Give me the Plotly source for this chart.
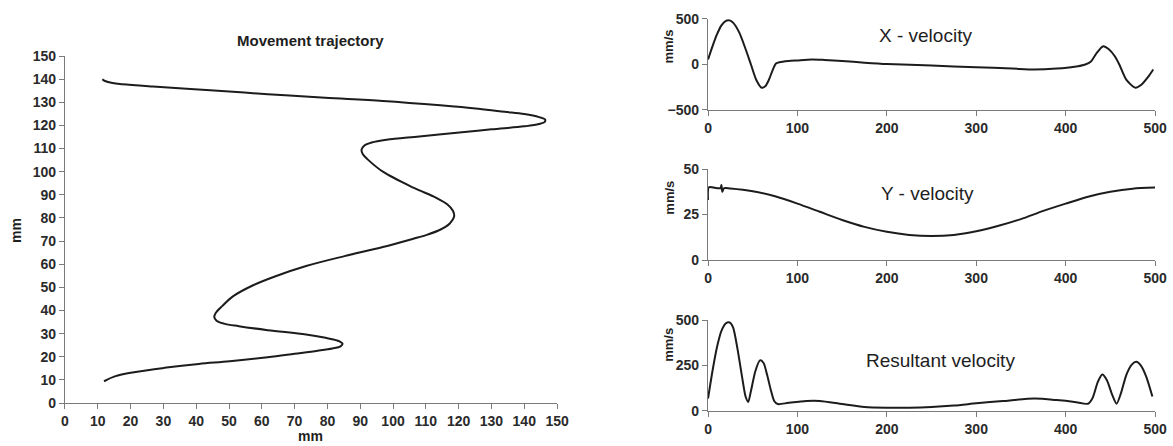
import plotly.graph_objects as go

# ---- Movement trajectory (mm) ----
traj_x = [11.4, 12.2, 14.5, 17.5, 26.8, 44.3, 61.8, 79.3, 96.9, 114.4, 126.0, 134.0, 140.0,
          144.5, 146.3, 146.3, 144.5, 140.0, 130.0, 120.2, 108.0, 98.0, 93.5, 91.2, 90.4,
          90.8, 92.5, 96.9, 106.2, 113.2, 116.6, 118.3, 118.6, 117.3, 114.5, 110.5, 106.2,
          96.9, 85.2, 73.5, 64.2, 57.2, 51.3, 48.0, 46.0, 45.5, 46.2, 48.5, 53.0, 61.8,
          73.5, 79.0, 83.0, 84.6, 84.0, 81.5, 77.0, 70.0, 61.8, 50.2, 40.8, 30.3, 21.0,
          15.2, 11.9]
traj_y = [140.0, 139.2, 138.3, 137.8, 136.8, 135.2, 133.5, 132.0, 130.6, 128.7, 127.2, 125.9, 124.9,
          123.6, 122.6, 121.6, 120.6, 119.6, 118.3, 116.9, 115.2, 113.8, 112.6, 111.2, 109.5,
          107.5, 105.0, 100.0, 93.1, 88.7, 85.8, 83.0, 80.5, 77.6, 75.0, 72.8, 71.0,
          67.4, 63.5, 59.2, 54.8, 50.8, 46.2, 42.0, 39.0, 37.2, 35.6, 34.3, 33.2, 31.5,
          29.6, 28.3, 27.0, 25.6, 24.5, 23.6, 22.6, 21.3, 19.8, 18.0, 16.9, 15.2, 13.3,
          11.5, 9.4]

# ---- X - velocity (mm/s) ----
xv_t = [0, 5, 10, 15, 20, 24, 28, 35, 42, 48, 54, 60, 64, 68, 72, 76, 80, 90, 100, 116, 130,
        150, 175, 200, 250, 300, 340, 365, 390, 410, 422, 428, 435, 442, 448, 455, 460, 468,
        478, 485, 492, 498]
xv_v = [55, 200, 330, 430, 480, 485, 460, 350, 170, 0, -170, -255, -240, -170, -70, 10, 25, 38,
        45, 55, 50, 38, 20, 5, -12, -30, -45, -55, -45, -25, 0, 30, 130, 200, 170, 90, 0, -170,
        -255, -220, -140, -55]

# ---- Y - velocity (mm/s) ----
yv_t = [0, 1, 10, 14, 15, 16, 18, 25, 50, 75, 100, 125, 150, 175, 200, 225, 250, 275, 300,
        325, 350, 375, 400, 425, 450, 475, 500]
yv_v = [33, 40, 39.5, 39.5, 41.2, 37.5, 39.5, 39.3, 37.8, 35, 31, 26.5, 22, 18.2, 15.5, 13.8,
        13.2, 13.8, 15.8, 18.8, 22.5, 27, 31, 34.8, 37.5, 39.2, 39.8]

# ---- Resultant velocity (mm/s) ----
rv_t = [0, 5, 10, 15, 20, 24, 28, 33, 38, 42, 45, 48, 53, 58, 62, 66, 70, 74, 78, 90, 110,
        125, 150, 175, 200, 225, 250, 275, 300, 330, 365, 390, 410, 425, 430, 436, 441, 446,
        452, 457, 462, 468, 474, 479, 484, 490, 497]
rv_v = [68, 220, 350, 440, 482, 487, 460, 340, 190, 80, 50, 110, 220, 278, 265, 200, 120, 55,
        38, 45, 55, 55, 38, 22, 18, 18, 22, 30, 42, 55, 68, 60, 50, 40, 70, 160, 200, 170, 90,
        40, 100, 200, 255, 270, 250, 190, 80]

FONT = "Liberation Sans, Arial, sans-serif"
LINE = dict(color="#1c1c1c", width=2, shape="spline", smoothing=0.7)
AX = dict(showline=True, linecolor="#7a7a7a", linewidth=1.2, ticks="outside", ticklen=5,
          tickcolor="#7a7a7a", showgrid=False, zeroline=False, automargin=False,
          tickfont=dict(family=FONT, size=14, color="#2a2a2a", weight="bold"))

fig = go.Figure()
fig.add_trace(go.Scatter(x=traj_x, y=traj_y, mode="lines",
                         line=dict(LINE, smoothing=1.0), xaxis="x", yaxis="y"))
fig.add_trace(go.Scatter(x=xv_t, y=xv_v, mode="lines", line=LINE, xaxis="x2", yaxis="y2"))
fig.add_trace(go.Scatter(x=yv_t, y=yv_v, mode="lines", line=LINE, xaxis="x3", yaxis="y3"))
fig.add_trace(go.Scatter(x=rv_t, y=rv_v, mode="lines", line=LINE, xaxis="x4", yaxis="y4"))

rx = [0.6036, 0.9847]
fig.update_layout(
    width=1173, height=446, autosize=False, showlegend=False,
    margin=dict(l=0, r=0, t=0, b=0),
    paper_bgcolor="white", plot_bgcolor="white",
    xaxis=dict(AX, domain=[0.0554, 0.4749], range=[0, 150], tick0=0, dtick=10, anchor="y"),
    yaxis=dict(AX, domain=[0.0964, 0.8744], range=[0, 150], tick0=0, dtick=10, anchor="x"),
    xaxis2=dict(AX, domain=rx, range=[0, 500], tick0=0, dtick=100, anchor="y2"),
    yaxis2=dict(AX, domain=[0.7534, 0.9574], range=[-500, 500], tickvals=[-500, 0, 500], anchor="x2"),
    xaxis3=dict(AX, domain=rx, range=[0, 500], tick0=0, dtick=100, anchor="y3"),
    yaxis3=dict(AX, domain=[0.417, 0.621], range=[0, 50], tickvals=[0, 25, 50], anchor="x3"),
    xaxis4=dict(AX, domain=rx, range=[0, 500], tick0=0, dtick=100, anchor="y4"),
    yaxis4=dict(AX, domain=[0.0785, 0.2825], range=[0, 500], tickvals=[0, 250, 500], anchor="x4"),
)

def ann(text, x, y, size, bold=True, angle=0):
    fig.add_annotation(text=text, x=x, y=y, xref="paper", yref="paper", showarrow=False,
                       xanchor="center", yanchor="middle", textangle=angle,
                       font=dict(family=FONT, size=size, color="#1e1e1e",
                                 weight="bold" if bold else "normal"))

ann("Movement trajectory", 0.265, 0.910, 15)
ann("mm", 0.265, 0.022, 14)
ann("mm", 0.0135, 0.484, 14, angle=-90)
ann("X - velocity", 0.7886, 0.9215, 19, bold=False)
ann("Y - velocity", 0.7911, 0.567, 19, bold=False)
ann("Resultant velocity", 0.8014, 0.1928, 19, bold=False)
for yc in [0.895, 0.556, 0.226]:
    ann("mm/s", 0.570, yc, 13, angle=-90)

fig.write_html("out.html", config={"displayModeBar": False},
               post_script="document.body.style.margin='0';")
